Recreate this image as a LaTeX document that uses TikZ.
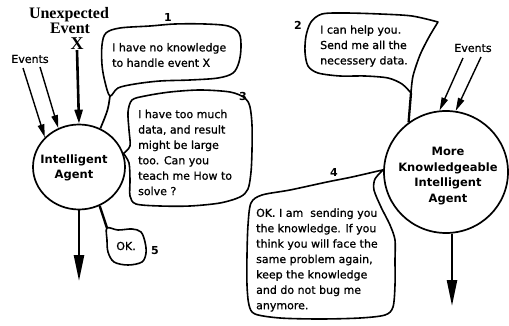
\documentclass[tikz,border=0pt]{standalone}
\usepackage{fontspec}
\setmainfont{DejaVu Sans}
\newfontfamily\saytext{DejaVu Sans}[FakeBold=0.9]
\newfontfamily\headserif{Liberation Serif}
\usetikzlibrary{arrows.meta,shapes.geometric}

\begin{document}
\begin{tikzpicture}[x=1pt,y=-1pt,
  agent/.style={draw, ellipse, line width=1.7pt, inner sep=0pt},
  agenttext/.style={font=\fontsize{11.5}{15.5}\selectfont\bfseries, align=center, inner sep=0pt},
  bubble/.style={draw, line width=1.6pt, line join=round},
  say/.style={font=\saytext\fontsize{11}{15.4}\selectfont, align=left, anchor=west, inner sep=0pt},
  tag/.style={font=\fontsize{11}{13}\selectfont\bfseries, inner sep=0pt},
  evlabel/.style={font=\saytext\fontsize{11}{13}\selectfont, inner sep=0pt},
  head/.style={font=\headserif\bfseries\fontsize{16}{18}\selectfont, inner sep=0pt, anchor=base},
  tail/.style={line width=1.7pt},
  feed/.style={line width=1.4pt, -{Triangle[length=13pt,width=6.5pt]}},
  outarrow/.style={line width=2.4pt, -{Triangle[length=26pt,width=10pt]}},
]
\useasboundingbox (0,0) rectangle (509,326);

% the two agents
\node[agent, minimum width=92pt, minimum height=85pt] (agentL) at (79,167) {};
\node[agenttext] (agentLlabel) at (74,168) {Intelligent\\Agent};
\node[agent, minimum width=124pt, minimum height=122pt] (agentR) at (446,172) {};
\node[agenttext] (agentRlabel) at (448,176) {More\\Knowledgeable\\Intelligent\\Agent};

% unexpected event heading
\node[head] (hU) at (69,18.5) {Unexpected};
\node[head] (hE) at (70,33.5) {Event};
\node[head, font=\headserif\bfseries\fontsize{18}{20}\selectfont] (hX) at (77,50) {X};

% incoming events
\node[evlabel] (evL) at (30,59) {Events};
\node[evlabel] (evR) at (473,48) {Events};
\coordinate (e1) at (23,68);
\coordinate (e2) at (40,67);
\coordinate (e3) at (463,58);
\coordinate (e4) at (481,57);
\draw[feed] (e1) -- (agentL.139);
\draw[feed] (e2) -- (agentL.118);
\draw[feed] (e3) -- (agentR.96);
\draw[feed] (e4) -- (agentR.81);
\draw[line width=2.6pt, -{Triangle[length=14pt,width=8pt]}] (hX.south) -- (agentL.north);

% outgoing results
\coordinate (o1) at (79,281);
\coordinate (o2) at (452,306);
\draw[outarrow] (agentL.south) -- (o1);
\draw[outarrow] (o2 |- agentR.south) -- (o2);

% bubble 1
\coordinate (j1) at (110,96);
\draw[bubble] plot[smooth cycle, tension=0.55] coordinates {(j1) (105,82) (102,65) (102,45) (106,33) (120,28) (150,26) (175,24) (205,24) (228,26) (239,33) (241,47) (239,62) (233,73) (218,78) (190,80) (160,81) (135,84) (118,88)};
\draw[tail] (j1) .. controls (108,110) .. (agentL.61);
\node[say] (t1) at (112,55) {I have no knowledge\\to handle event X};
\node[tag] (n1) at (168,17) {1};

% bubble 2
\coordinate (j2) at (411,93);
\draw[bubble] plot[smooth, tension=0.5] coordinates {(j2) (413,76) (420,55) (429,37) (438,22)}
  -- plot[smooth, tension=0.5] coordinates {(438,22) (412,16) (380,14) (345,13) (322,14) (311,22) (306,36) (305,52) (308,66) (318,73) (340,76) (365,76) (388,78) (402,84) (j2)} -- cycle;
\draw[tail, line width=2.3pt] (j2) -- (agentR.127);
\node[say] (t2) at (320,46) {I can help you.\\Send me all the\\necessery data.};
\node[tag] (n2) at (298,25) {2};

% bubble 3
\coordinate (tip3) at (agentL.17);
\draw[bubble] plot[smooth, tension=0.5] coordinates {(tip3) (129,163) (130,180) (130,196) (136,204) (160,206) (190,206) (220,203) (240,197) (248,189) (251,172) (252,150) (252,125) (250,107) (245,98) (230,92) (200,90) (170,92) (145,96) (132,100) (128,112) (129,130) (130,146) (tip3)} -- cycle;
\node[say] (t3) at (138,152.5) {I have too much\\data, and result\\might be large\\too. Can you\\teach me How to\\solve ?};
\node[tag] (n3) at (243,96) {3};

% bubble 4
\coordinate (tip4) at (agentR.178);
\draw[bubble] plot[smooth, tension=0.5] coordinates {(tip4) (352,177) (327,182) (290,190) (262,195) (251,203) (248,225) (247,255) (247,285) (249,305) (255,314) (280,318) (320,319) (360,318) (385,315) (393,307) (395,285) (395,260) (395,240) (390,225) (381,207) (374,190) (375,179) (tip4)} -- cycle;
\node[say] (t4) at (256,260) {OK. I am\ \ sending you\\the knowledge. If you\\think you will face the\\same problem again,\\keep the knowledge\\and do not bug me\\anymore.};
\node[tag] (n4) at (334,172) {4};

% bubble 5
\coordinate (j5) at (107,228);
\draw[bubble] plot[smooth cycle, tension=0.55] coordinates {(j5) (118,230) (132,229) (141,232) (145,242) (146,253) (142,262) (128,265) (114,262) (108,252) (107,240)};
\draw[tail, line width=2.4pt] (agentL.-62) -- (j5);
\node[say, anchor=center] (t5) at (126,246) {OK.};
\node[tag] (n5) at (155,251) {5};
\end{tikzpicture}
\end{document}
